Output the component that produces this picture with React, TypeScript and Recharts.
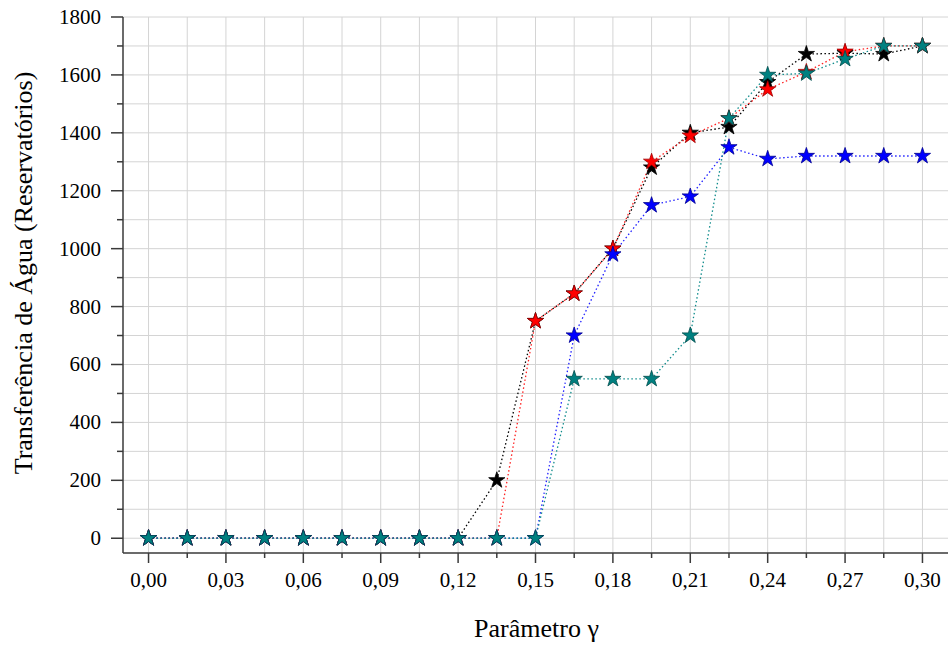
import React from 'react';
import { LineChart, Line, XAxis, YAxis, CartesianGrid, Symbols } from 'recharts';

const gammaValues = [
  0, 0.015, 0.03, 0.045, 0.06, 0.075, 0.09, 0.105, 0.12, 0.135, 0.15,
  0.165, 0.18, 0.195, 0.21, 0.225, 0.24, 0.255, 0.27, 0.285, 0.3,
];

const serieBlack = [0, 0, 0, 0, 0, 0, 0, 0, 0, 200, 750, 845, 1000, 1280, 1400, 1420, 1575, 1672, 1675, 1672, 1700];
const serieRed = [0, 0, 0, 0, 0, 0, 0, 0, 0, 0, 750, 845, 1000, 1300, 1390, 1450, 1550, 1610, 1680, 1700, 1700];
const serieBlue = [0, 0, 0, 0, 0, 0, 0, 0, 0, 0, 0, 700, 980, 1150, 1180, 1350, 1310, 1320, 1320, 1320, 1320];
const serieTeal = [0, 0, 0, 0, 0, 0, 0, 0, 0, 0, 0, 550, 550, 550, 700, 1450, 1600, 1605, 1655, 1700, 1700];

const yTicks = [0, 100, 200, 300, 400, 500, 600, 700, 800, 900, 1000, 1100, 1200, 1300, 1400, 1500, 1600, 1700, 1800];

const data = gammaValues.map((g, i) => ({
  g,
  black: serieBlack[i],
  red: serieRed[i],
  blue: serieBlue[i],
  teal: serieTeal[i],
}));

const series = [
  { key: 'black', fill: '#000000', edge: '#000000', line: '#000000' },
  { key: 'red', fill: '#ff0000', edge: '#a00000', line: '#ff2020' },
  { key: 'blue', fill: '#0000ff', edge: '#000090', line: '#2020ff' },
  { key: 'teal', fill: '#008080', edge: '#004c4c', line: '#108c8c' },
];

const FONT = '"Liberation Serif", "Times New Roman", serif';
const AXIS = '#3a3a3a';

const isMajorX = (v: number) => Math.round(v / 0.015) % 2 === 0;
const isMajorY = (v: number) => Math.round(v) % 200 === 0;
const fmtX = (v: number) => v.toFixed(2).replace('.', ',');

const tickText = { fontFamily: FONT, fontSize: 21, fill: '#000' };
const titleText = { fontFamily: FONT, fontSize: 26, fill: '#000' };

const BottomTick = ({ x, y, payload }: any) => {
  const major = isMajorX(payload.value);
  return (
    <g>
      <line x1={x} y1={y} x2={x} y2={y + (major ? 10 : 5)} stroke={AXIS} strokeWidth={1.5} />
      {major && (
        <text x={x} y={y + 34} textAnchor="middle" style={tickText}>
          {fmtX(payload.value)}
        </text>
      )}
    </g>
  );
};

const TopTick = ({ x, y, payload }: any) => {
  const major = isMajorX(payload.value);
  return <line x1={x} y1={y} x2={x} y2={y + (major ? 11 : 5)} stroke={AXIS} strokeWidth={1.5} />;
};

const LeftTick = ({ x, y, payload }: any) => {
  const major = isMajorY(payload.value);
  return (
    <g>
      <line x1={x - (major ? 12 : 6)} y1={y} x2={x} y2={y} stroke={AXIS} strokeWidth={1.5} />
      {major && (
        <text x={x - 22} y={y + 7} textAnchor="end" style={tickText}>
          {payload.value}
        </text>
      )}
    </g>
  );
};

const RightTick = ({ x, y, payload }: any) => {
  const major = isMajorY(payload.value);
  return <line x1={x - (major ? 12 : 6)} y1={y} x2={x} y2={y} stroke={AXIS} strokeWidth={1.5} />;
};

const XTitle = (p: any) => {
  const vb = p.viewBox;
  const cx = vb.x + vb.width / 2 + 1;
  return (
    <text x={cx} y={vb.y + 84} textAnchor="middle" style={titleText}>
      Parâmetro γ
    </text>
  );
};

const YTitle = (p: any) => {
  const vb = p.viewBox;
  const cy = vb.y + vb.height / 2 - 12;
  const bx = 32;
  return (
    <text x={bx} y={cy} textAnchor="middle" transform={`rotate(-90, ${bx}, ${cy})`} style={titleText}>
      Transferência de Água (Reservatórios)
    </text>
  );
};

const starDot = (fill: string, edge: string) => (p: any) => (
  <Symbols
    key={`s-${p.index}`}
    cx={p.cx}
    cy={p.cy}
    type="star"
    size={82}
    fill={fill}
    stroke={edge}
    strokeWidth={0.8}
  />
);

export default function App() {
  return (
    <div style={{ position: 'absolute', left: 0, top: 0, width: 949, height: 649, background: '#fff' }}>
      <LineChart width={949} height={649} data={data} margin={{ top: 17, right: 1, bottom: 0, left: 0 }}>
        <CartesianGrid
          xAxisId="b"
          yAxisId="l"
          stroke="#d4d4d4"
          strokeWidth={1}
          horizontalValues={yTicks}
          verticalValues={gammaValues}
        />
        <XAxis
          xAxisId="b"
          dataKey="g"
          type="number"
          domain={[-0.0099, 0.3099]}
          ticks={gammaValues}
          interval={0}
          height={96}
          tickSize={0}
          tickMargin={0}
          tick={<BottomTick />}
          axisLine={{ stroke: AXIS, strokeWidth: 1.5 }}
          label={XTitle}
        />
        <XAxis
          xAxisId="t"
          orientation="top"
          type="number"
          domain={[-0.0099, 0.3099]}
          ticks={gammaValues}
          interval={0}
          height={0}
          tickSize={0}
          tickMargin={0}
          tick={<TopTick />}
          axisLine={{ stroke: AXIS, strokeWidth: 1.5 }}
        />
        <YAxis
          yAxisId="l"
          type="number"
          domain={[-51, 1800]}
          ticks={yTicks}
          interval={0}
          width={123}
          tickSize={0}
          tickMargin={0}
          tick={<LeftTick />}
          axisLine={{ stroke: AXIS, strokeWidth: 1.5 }}
          label={YTitle}
        />
        <YAxis
          yAxisId="r"
          orientation="right"
          type="number"
          domain={[-51, 1800]}
          ticks={yTicks}
          interval={0}
          width={0}
          tickSize={0}
          tickMargin={0}
          tick={<RightTick />}
          axisLine={{ stroke: AXIS, strokeWidth: 1.5 }}
        />
        {series.map((s) => (
          <Line
            key={s.key}
            xAxisId="b"
            yAxisId="l"
            type="linear"
            dataKey={s.key}
            stroke={s.line}
            strokeWidth={1.3}
            strokeDasharray="1.5 2.5"
            dot={starDot(s.fill, s.edge)}
            activeDot={false}
            isAnimationActive={false}
          />
        ))}
      </LineChart>
    </div>
  );
}
